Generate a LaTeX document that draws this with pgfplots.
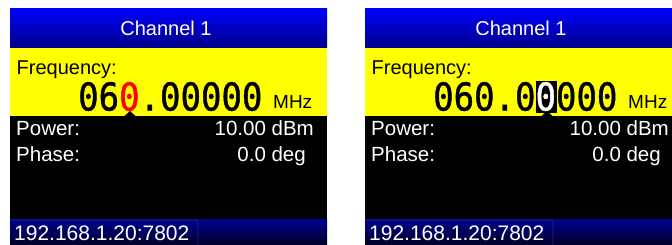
\documentclass[border=0pt]{standalone}
\usepackage{pgfplots}
\pgfplotsset{compat=1.18}
\usepackage{fontspec}
\setmainfont{Liberation Sans}
\newfontfamily\mono[FakeBold=1.2]{DejaVu Sans Mono}
\definecolor{hdrtop}{RGB}{0,0,255}
\definecolor{hdrbot}{RGB}{0,0,135}
\definecolor{bartop}{RGB}{0,0,145}
\definecolor{barbot}{RGB}{0,0,45}
\definecolor{ipedge}{RGB}{40,40,120}
\definecolor{lcdyellow}{RGB}{255,255,0}
\definecolor{lcdred}{RGB}{255,0,0}
\begin{document}
\begin{tikzpicture}
\begin{axis}[hide axis, scale only axis, width=672pt, height=244pt,
  xmin=0, xmax=672, ymin=0, ymax=244, y dir=reverse, clip=true, no markers]
% ---------- background ----------
\addplot[draw=none, fill=white] coordinates {(0,0)(672,0)(672,244)(0,244)} -- cycle;
% ---------- left panel ----------
\addplot[draw=none, top color=hdrtop, bottom color=hdrbot] coordinates {(10,8)(327,8)(327,48)(10,48)} -- cycle;
\addplot[draw=none, fill=lcdyellow] coordinates {(10,48)(327,48)(327,116)(10,116)} -- cycle;
\addplot[draw=none, fill=black] coordinates {(10,116)(327,116)(327,219)(10,219)} -- cycle;
\addplot[draw=none, top color=bartop, bottom color=barbot] coordinates {(10,219)(327,219)(327,244)(10,244)} -- cycle;
\addplot[draw=ipedge, line width=0.8pt, rounded corners=2pt] coordinates {(10,220)(198,220)(198,245)} ;
\addplot[draw=none, fill=black] coordinates {(124,116.5)(130,111)(136,116.5)} -- cycle;
% ---------- right panel ----------
\addplot[draw=none, top color=hdrtop, bottom color=hdrbot] coordinates {(365,8)(682,8)(682,48)(365,48)} -- cycle;
\addplot[draw=none, fill=lcdyellow] coordinates {(365,48)(682,48)(682,116)(365,116)} -- cycle;
\addplot[draw=none, fill=black] coordinates {(365,116)(682,116)(682,219)(365,219)} -- cycle;
\addplot[draw=none, top color=bartop, bottom color=barbot] coordinates {(365,219)(682,219)(682,244)(365,244)} -- cycle;
\addplot[draw=ipedge, line width=0.8pt, rounded corners=2pt] coordinates {(365,220)(553,220)(553,245)} ;
\addplot[draw=none, fill=black] coordinates {(536,81)(557,81)(557,113)(536,113)} -- cycle;
\addplot[draw=none, fill=black] coordinates {(541,116.5)(547,111)(553,116.5)} -- cycle;
% ---------- texts left ----------
\node[anchor=base, inner sep=0, text=white, font=\fontsize{20}{24}\selectfont] at (axis cs:166,35) {Channel 1};
\node[anchor=base west, inner sep=0, font=\fontsize{20}{24}\selectfont] at (axis cs:16.5,74) {Frequency:};
\node[anchor=base west, inner sep=0, font=\mono\fontsize{34}{40}\selectfont] at (axis cs:78,110.5) {\scalebox{1}[1.13]{06\textcolor{lcdred}{0}.00000}};
\node[anchor=base west, inner sep=0, font=\fontsize{19}{22}\selectfont] at (axis cs:273,108.5) {MHz};
\node[anchor=base west, inner sep=0, text=white, font=\fontsize{20.5}{24}\selectfont] at (axis cs:16,135) {Power:};
\node[anchor=base east, inner sep=0, text=white, font=\fontsize{20.5}{24}\selectfont] at (axis cs:314,135) {10.00 dBm};
\node[anchor=base west, inner sep=0, text=white, font=\fontsize{20.5}{24}\selectfont] at (axis cs:16,161) {Phase:};
\node[anchor=base east, inner sep=0, text=white, font=\fontsize{20.5}{24}\selectfont] at (axis cs:306,161) {0.0 deg};
\node[anchor=base west, inner sep=0, text=white, font=\fontsize{21}{24}\selectfont] at (axis cs:14,240) {192.168.1.20:7802};
% ---------- texts right ----------
\node[anchor=base, inner sep=0, text=white, font=\fontsize{20}{24}\selectfont] at (axis cs:521,35) {Channel 1};
\node[anchor=base west, inner sep=0, font=\fontsize{20}{24}\selectfont] at (axis cs:371.5,74) {Frequency:};
\node[anchor=base west, inner sep=0, font=\mono\fontsize{34}{40}\selectfont] at (axis cs:433,110.5) {\scalebox{1}[1.13]{060.0\textcolor{white}{0}000}};
\node[anchor=base west, inner sep=0, font=\fontsize{19}{22}\selectfont] at (axis cs:628,108.5) {MHz};
\node[anchor=base west, inner sep=0, text=white, font=\fontsize{20.5}{24}\selectfont] at (axis cs:371,135) {Power:};
\node[anchor=base east, inner sep=0, text=white, font=\fontsize{20.5}{24}\selectfont] at (axis cs:669,135) {10.00 dBm};
\node[anchor=base west, inner sep=0, text=white, font=\fontsize{20.5}{24}\selectfont] at (axis cs:371,161) {Phase:};
\node[anchor=base east, inner sep=0, text=white, font=\fontsize{20.5}{24}\selectfont] at (axis cs:661,161) {0.0 deg};
\node[anchor=base west, inner sep=0, text=white, font=\fontsize{21}{24}\selectfont] at (axis cs:369,240) {192.168.1.20:7802};
\end{axis}
\end{tikzpicture}
\end{document}
